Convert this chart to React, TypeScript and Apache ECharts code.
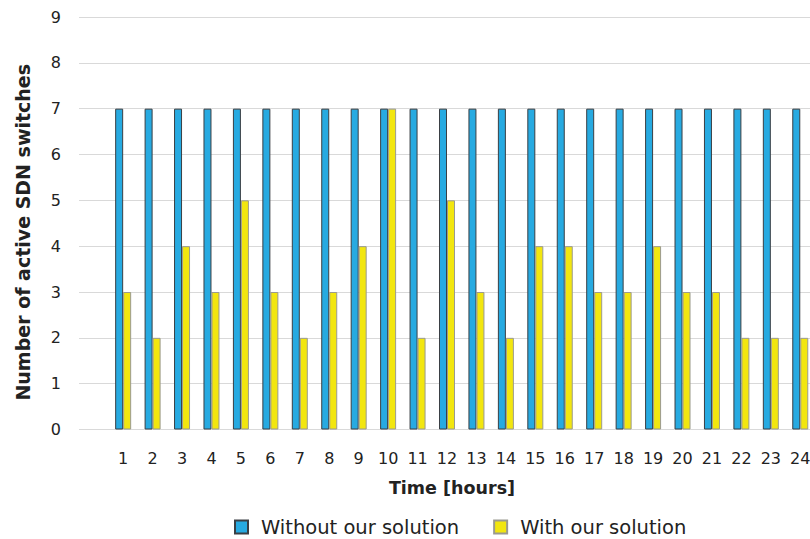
import React, { useEffect, useRef } from "react";
import * as echarts from "echarts";

// Hour of the day (x categories)
const hours: string[] = [
  "1", "2", "3", "4", "5", "6", "7", "8", "9", "10", "11", "12",
  "13", "14", "15", "16", "17", "18", "19", "20", "21", "22", "23", "24",
];

// Active SDN switches per hour
const withoutSolution: number[] = [
  7, 7, 7, 7, 7, 7, 7, 7, 7, 7, 7, 7, 7, 7, 7, 7, 7, 7, 7, 7, 7, 7, 7, 7,
];
const withSolution: number[] = [
  3, 2, 4, 3, 5, 3, 2, 3, 4, 7, 2, 5, 3, 2, 4, 4, 3, 3, 4, 3, 3, 2, 2, 2,
];

const yTicks = { min: 0, max: 9, interval: 1 };

const FONT = "'DejaVu Sans', Arial, Helvetica, sans-serif";
const TEXT = "#222222";

export default function App() {
  const ref = useRef<HTMLDivElement>(null);

  useEffect(() => {
    if (!ref.current) return;
    const chart = echarts.init(ref.current, null, { renderer: "svg" });

    // A blank leading slot keeps empty room between the y axis and hour 1.
    const categories = ["", ...hours];
    const blueData = [null, ...withoutSolution];
    const yellowData = [null, ...withSolution];

    chart.setOption({
      animation: false,
      backgroundColor: "#ffffff",
      textStyle: { fontFamily: FONT },
      grid: { left: 79, right: 1, top: 17, bottom: 109.5 },
      legend: {
        left: 229,
        top: 512,
        itemWidth: 13,
        itemHeight: 13,
        itemGap: 34,
        icon: "rect",
        textStyle: { fontSize: 19.5, color: TEXT, fontFamily: FONT, padding: [0, 0, 0, 8] },
        data: ["Without our solution", "With our solution"],
      },
      xAxis: {
        type: "category",
        data: categories,
        name: "Time [hours]",
        nameLocation: "middle",
        nameGap: 49,
        nameTextStyle: {
          fontSize: 17.5,
          fontWeight: "bold",
          color: TEXT,
          fontFamily: FONT,
          padding: [0, 0, 0, 10],
        },
        axisLine: { show: false },
        axisTick: { show: false },
        axisLabel: { fontSize: 16, color: TEXT, margin: 21, interval: 0, fontFamily: FONT },
        splitLine: { show: false },
      },
      yAxis: {
        type: "value",
        min: yTicks.min,
        max: yTicks.max,
        interval: yTicks.interval,
        name: "Number of active SDN switches",
        nameLocation: "middle",
        nameGap: 47,
        nameTextStyle: {
          fontSize: 19,
          fontWeight: "bold",
          color: TEXT,
          fontFamily: FONT,
          padding: [0, 18, 0, 0],
        },
        axisLine: { show: false },
        axisTick: { show: false },
        axisLabel: { fontSize: 16, color: TEXT, margin: 18, fontFamily: FONT },
        splitLine: { show: true, lineStyle: { color: "#d9d9d9", width: 1 } },
      },
      series: [
        {
          name: "Without our solution",
          type: "bar",
          data: blueData,
          barWidth: 8,
          barGap: "0%",
          itemStyle: { color: "#27aae1", borderColor: "#3a3f44", borderWidth: 1 },
        },
        {
          name: "With our solution",
          type: "bar",
          data: yellowData,
          barWidth: 8,
          barGap: "0%",
          itemStyle: { color: "#f2e60f", borderColor: "#9a9a90", borderWidth: 1 },
        },
      ],
    });

    return () => chart.dispose();
  }, []);

  // The canvas is a few pixels wider than the window, so the last bar pair
  // runs off the right edge.
  return (
    <div
      ref={ref}
      style={{ position: "fixed", left: 0, top: 0, width: 816, height: 539, background: "#fff" }}
    />
  );
}
